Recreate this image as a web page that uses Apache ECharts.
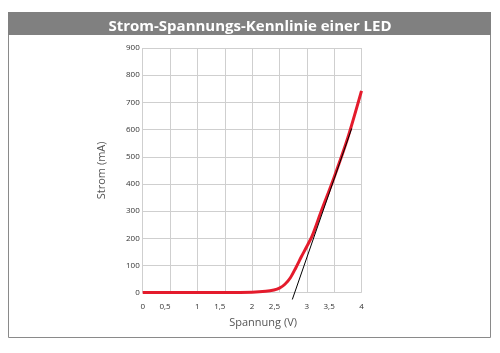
<!DOCTYPE html>
<html><head><meta charset="utf-8">
<script src="https://cdn.jsdelivr.net/npm/echarts@6/dist/echarts.min.js"></script>
<style>html,body{margin:0;padding:0;background:#fff}#c{width:500px;height:353px}</style>
</head><body><div id="c"></div>
<script>
const titleText = 'Strom-Spannungs-Kennlinie einer LED';
const xName = 'Spannung (V)';
const yName = 'Strom (mA)';
const voltage = [0, 0.5, 1, 1.5, 2, 2.25, 2.4, 2.5, 2.6, 2.7, 2.8, 2.9, 3, 3.1, 3.25, 3.5, 3.75, 4];
const current = [1, 1, 1, 1, 2, 5, 10, 17, 31, 55, 92, 132, 170, 210, 292, 425, 570, 742];
const tangentX = [2.735, 3.82];
const tangentY = [-25, 604];

const chart = echarts.init(document.getElementById('c'), null, {renderer: 'canvas'});
const font = '"Open Sans", "Noto Sans", sans-serif';
chart.setOption({
  animation: false,
  backgroundColor: '#fff',
  title: {
    text: titleText, left: 'center', top: 14,
    textStyle: {color: '#fff', fontSize: 15, fontWeight: 'bold', fontFamily: font}
  },
  graphic: [
    {type: 'rect', shape: {x: 8.5, y: 12.5, width: 482, height: 325}, style: {fill: 'none', stroke: '#8a8a8a', lineWidth: 1}, z: -1},
    {type: 'rect', shape: {x: 8, y: 12, width: 483, height: 23}, style: {fill: '#808080'}, z: -1}
  ],
  grid: {left: 142.7, right: 138.5, top: 48, bottom: 60.3, containLabel: false},
  xAxis: {
    type: 'value', min: 0, max: 4, interval: 0.5,
    name: xName, nameLocation: 'middle', nameGap: 25,
    nameTextStyle: {color: '#555', fontSize: 11, fontFamily: font, padding: [0, 0, 0, 22]},
    axisLine: {show: false}, axisTick: {show: false},
    axisLabel: {
      color: '#333', fontSize: 8, fontFamily: font, margin: 10,
      formatter: v => { const s = String(v).replace('.', ','); return s.indexOf(',') >= 0 ? '{h|' + s + '}' : s; },
      rich: {h: {color: '#333', fontSize: 8, fontFamily: font, padding: [0, 10, 0, 0]}}
    },
    splitLine: {show: true, lineStyle: {color: '#cfcfcf', width: 1}}
  },
  yAxis: {
    type: 'value', min: 0, max: 900, interval: 100,
    name: yName, nameLocation: 'middle', nameGap: 35, nameRotate: 90,
    nameTextStyle: {color: '#555', fontSize: 11, fontFamily: font},
    axisLine: {show: false}, axisTick: {show: false},
    axisLabel: {color: '#333', fontSize: 8, fontFamily: font, margin: 3},
    splitLine: {show: true, lineStyle: {color: '#cfcfcf', width: 1}}
  },
  series: [
    {
      type: 'line', data: tangentX.map((x, i) => [x, tangentY[i]]),
      symbol: 'none', clip: false, lineStyle: {color: '#000', width: 1}, z: 3
    },
    {
      type: 'line', data: voltage.map((x, i) => [x, current[i]]),
      symbol: 'none', smooth: 0.3, clip: false, lineStyle: {color: '#e41b2c', width: 3}, z: 2
    }
  ]
});
</script></body></html>
